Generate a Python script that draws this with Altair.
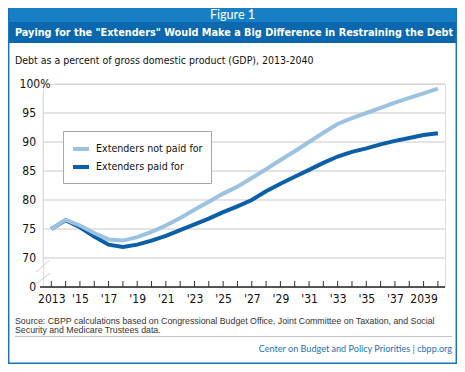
import altair as alt
import pandas as pd

years = list(range(2013, 2041))
not_paid = [75.0, 76.6, 75.6, 74.3, 73.2, 73.0, 73.6, 74.5, 75.6, 76.9, 78.3, 79.7, 81.1, 82.3,
            83.8, 85.3, 86.9, 88.4, 90.0, 91.6, 93.1, 94.1, 95.0, 95.9, 96.8, 97.6, 98.4, 99.2]
paid = [75.0, 76.5, 75.3, 73.7, 72.3, 71.9, 72.3, 73.0, 73.8, 74.8, 75.8, 76.8, 77.9, 78.9,
        80.0, 81.5, 82.8, 84.0, 85.2, 86.4, 87.5, 88.3, 88.9, 89.6, 90.2, 90.7, 91.2, 91.5]
series_names = ["Extenders not paid for", "Extenders paid for"]
series_colors = ["#9cc2e2", "#0b5ea8"]

x_tick_values = list(range(2013, 2040, 2))
x_tick_labels = ["2013", "'15", "'17", "'19", "'21", "'23", "'25", "'27", "'29", "'31", "'33", "'35", "'37", "2039"]
y_tick_values = [65, 70, 75, 80, 85, 90, 95, 100]
y_tick_labels = ["0", "70", "75", "80", "85", "90", "95", "100%"]
grid_values = [70, 75, 80, 85, 90, 95]

figure_label = "Figure 1"
title_text = 'Paying for the "Extenders" Would Make a Big Difference in Restraining the Debt'
subtitle_text = "Debt as a percent of gross domestic product (GDP), 2013-2040"
source_lines = ["Source: CBPP calculations based on Congressional Budget Office, Joint Committee on Taxation, and Social",
                "Security and Medicare Trustees data."]
credit_text = "Center on Budget and Policy Priorities | cbpp.org"

COND = "Liberation Sans Narrow, DejaVu Sans Condensed, sans-serif"

df = pd.DataFrame({
    "year": years * 2,
    "value": not_paid + paid,
    "series": [series_names[0]] * len(years) + [series_names[1]] * len(years),
})
ticks_df = pd.DataFrame({"year": years})
ylab_df = pd.DataFrame({"v": y_tick_values, "label": y_tick_labels})
grid_df = pd.DataFrame({"v": grid_values})
top_df = pd.DataFrame({"v": [100]})
one = pd.DataFrame({"a": [0]})

def expr_map(vals, labels):
    parts = " : ".join(f"datum.value == {v} ? \"{l}\"" for v, l in zip(vals, labels))
    return parts + " : ''"

W, H = 402, 203
xscale = alt.Scale(domain=[2013, 2040], range=[8.3, 394.9], nice=False, zero=False)
yscale = alt.Scale(domain=[65, 100], nice=False, zero=False)
color_scale = alt.Scale(domain=series_names, range=series_colors)

AX_FS = 12
x_axis = alt.Axis(values=x_tick_values, labelExpr=expr_map(x_tick_values, x_tick_labels),
                  domain=False, ticks=False, grid=False, title=None, labelPadding=6,
                  labelFont=COND, labelFontSize=AX_FS, labelColor="#111", labelFlush=False,
                  labelOverlap=False)

grid = alt.Chart(grid_df).mark_rule(color="#c9c9c9", strokeWidth=1.2).encode(
    y=alt.Y("v:Q", scale=yscale, axis=None), x=alt.value(0), x2=alt.value(W))
grid_top = alt.Chart(top_df).mark_rule(color="#c9c9c9", strokeWidth=1.2).encode(
    y=alt.Y("v:Q", scale=yscale, axis=None), x=alt.value(12), x2=alt.value(W))
ylab_base = alt.Chart(ylab_df)
ylabels = ylab_base.transform_filter(alt.datum.v < 100).mark_text(
    font=COND, fontSize=AX_FS, color="#111", align="right", baseline="middle").encode(
    y=alt.Y("v:Q", scale=yscale, axis=None), x=alt.value(-7), text="label:N")
ylabel_top = ylab_base.transform_filter(alt.datum.v >= 100).mark_text(
    font=COND, fontSize=AX_FS, color="#111", align="center", baseline="middle").encode(
    y=alt.Y("v:Q", scale=yscale, axis=None), x=alt.value(-8), text="label:N")

xline = alt.Chart(one).mark_rule(color="#222", strokeWidth=1.6).encode(
    x=alt.value(-3), x2=alt.value(W), y=alt.value(H))

base = alt.Chart(df)

line_dark = base.transform_filter(alt.datum.series == series_names[1]).mark_line(strokeWidth=4).encode(
    x=alt.X("year:Q", scale=xscale, axis=x_axis),
    y=alt.Y("value:Q", scale=yscale, axis=None),
    color=alt.Color("series:N", scale=color_scale, sort=series_names,
                    legend=alt.Legend(orient="none", legendX=20, legendY=47, title=None,
                                      fillColor="white", strokeColor="#a8a8a8", padding=8,
                                      symbolType="stroke", symbolStrokeWidth=4, symbolSize=256,
                                      labelFont=COND, labelFontSize=10.6, labelColor="#111",
                                      labelLimit=0, rowPadding=0, labelOffset=5)),
)
line_light = base.transform_filter(alt.datum.series == series_names[0]).mark_line(strokeWidth=4).encode(
    x=alt.X("year:Q", scale=xscale, axis=x_axis),
    y=alt.Y("value:Q", scale=yscale, axis=None),
    color=alt.Color("series:N", scale=color_scale, sort=series_names),
)

ticks = alt.Chart(ticks_df).mark_rule(color="#333", strokeWidth=1).encode(
    x=alt.X("year:Q", scale=xscale, axis=x_axis), y=alt.value(H), y2=alt.value(H - 6))

yline = alt.Chart(one).mark_rule(color="#e0e0e0", strokeWidth=1).encode(
    x=alt.value(0), y=alt.value(9), y2=alt.value(178))
brk1 = alt.Chart(one).mark_rule(color="#cfcfcf", strokeWidth=1).encode(
    x=alt.value(-7), x2=alt.value(7), y=alt.value(188), y2=alt.value(176))
brk2 = alt.Chart(one).mark_rule(color="#cfcfcf", strokeWidth=1).encode(
    x=alt.value(-7), x2=alt.value(7), y=alt.value(200), y2=alt.value(189))

shadow = alt.Chart(one).mark_rect(color="#d4d4d4").encode(
    x=alt.value(22), x2=alt.value(167), y=alt.value(49), y2=alt.value(96))

band1 = alt.Chart(one).mark_rect(color="#1780c4").encode(
    x=alt.value(-35), x2=alt.value(414), y=alt.value(-76), y2=alt.value(-62))
band2 = alt.Chart(one).mark_rect(color="#0c68ae").encode(
    x=alt.value(-35), x2=alt.value(414), y=alt.value(-62), y2=alt.value(-41))

fig_txt = alt.Chart(one).mark_text(text=figure_label, color="white", font="Lato, sans-serif",
                                   fontSize=12.5, align="center", baseline="middle").encode(
    x=alt.value(189.5), y=alt.value(-69))
title_txt = alt.Chart(one).mark_text(text=title_text, color="white", font=COND, fontWeight="bold",
                                     fontSize=10.8, align="left", baseline="middle").encode(
    x=alt.value(-28), y=alt.value(-51.5))
sub_txt = alt.Chart(one).mark_text(text=subtitle_text, color="#111", font=COND,
                                   fontSize=10.5, align="left", baseline="middle").encode(
    x=alt.value(-28), y=alt.value(-23))
src1 = alt.Chart(one).mark_text(text=source_lines[0], color="#333", font="Liberation Sans, Arial, sans-serif",
                                fontSize=8.8, align="left", baseline="middle").encode(
    x=alt.value(-28), y=alt.value(236.5))
src2 = alt.Chart(one).mark_text(text=source_lines[1], color="#333", font="Liberation Sans, Arial, sans-serif",
                                fontSize=8.8, align="left", baseline="middle").encode(
    x=alt.value(-28), y=alt.value(246))
sep = alt.Chart(one).mark_rule(color="#c4c4c4", strokeWidth=1).encode(
    x=alt.value(-28), x2=alt.value(409), y=alt.value(252.5))
credit = alt.Chart(one).mark_text(text=credit_text, color="#2a6fb0", font="Lato, sans-serif",
                                  fontSize=9.1, align="right", baseline="middle").encode(
    x=alt.value(409), y=alt.value(265))

border_l = alt.Chart(one).mark_rule(color="#1a74b9", strokeWidth=1.5).encode(
    x=alt.value(-34.3), y=alt.value(-76), y2=alt.value(280))
border_r = alt.Chart(one).mark_rule(color="#1a74b9", strokeWidth=1.5).encode(
    x=alt.value(413.3), y=alt.value(-76), y2=alt.value(280))
border_b = alt.Chart(one).mark_rule(color="#1a74b9", strokeWidth=1.5).encode(
    x=alt.value(-35), x2=alt.value(414), y=alt.value(279.3))

chart = alt.layer(
    band1, band2, fig_txt, title_txt, sub_txt,
    grid, grid_top, ylabels, ylabel_top, xline,
    yline, brk1, brk2, ticks, shadow,
    line_dark, line_light,
    src1, src2, sep, credit, border_l, border_r, border_b,
).resolve_scale(color="shared").properties(
    width=W, height=H,
    autosize=alt.AutoSizeParams(type="none"),
    padding={"left": 35, "top": 76, "right": 12, "bottom": 77},
).configure_view(stroke=None).configure(background="white")

chart.save("out.html", embed_options={"renderer": "svg", "actions": False})
